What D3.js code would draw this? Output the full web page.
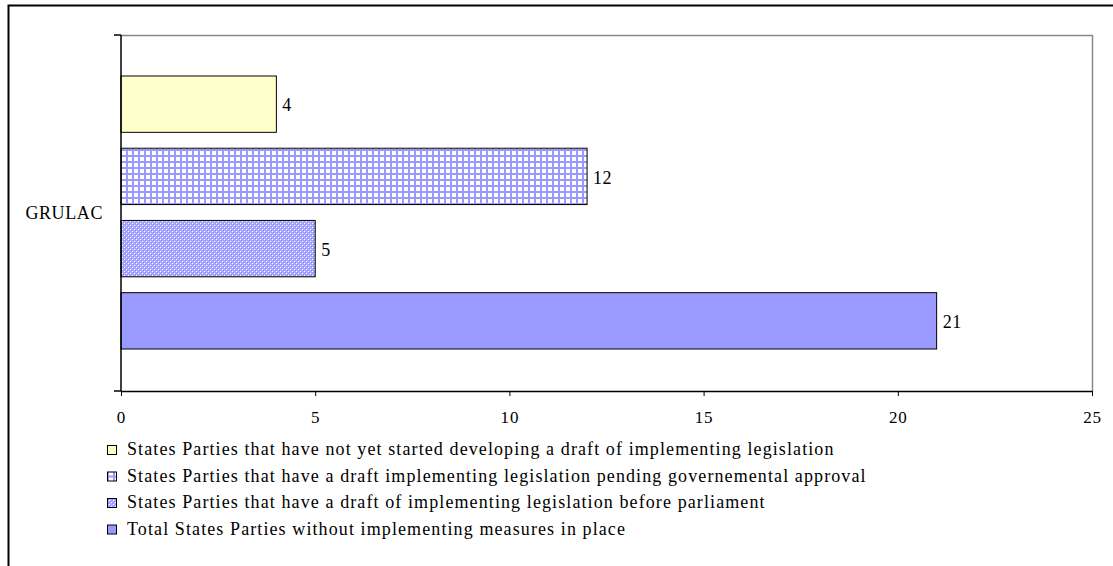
<!DOCTYPE html>
<html>
<head>
<meta charset="utf-8">
<script src="https://cdn.jsdelivr.net/npm/d3@7"></script>
<style>
  body { margin: 0; background: #fff; }
  svg text { font-family: "Liberation Serif", "Times New Roman", serif; fill: #000; }
</style>
</head>
<body>
<div id="chart"></div>
<script>
// Datos del gráfico
const category = "GRULAC";
const seriesNames = [
  "States Parties that have not yet started developing a draft of implementing legislation",
  "States Parties that have a draft implementing legislation pending governemental approval",
  "States Parties that have a draft of implementing legislation before parliament",
  "Total States Parties without implementing measures in place"
];
const seriesValues = [4, 12, 5, 21];
const xTicks = [0, 5, 10, 15, 20, 25];

const width = 1113, height = 566;
const marginLeft = 121, marginRight = 21, marginTop = 35, plotBottom = 391;

const svg = d3.select("#chart").append("svg")
  .attr("width", width)
  .attr("height", height)
  .attr("viewBox", [0, 0, width, height]);

// Patrones de relleno
const defs = svg.append("defs");
const grid = defs.append("pattern")
  .attr("id", "grid").attr("patternUnits", "userSpaceOnUse")
  .attr("width", 6).attr("height", 6);
grid.append("rect").attr("width", 6).attr("height", 6).attr("fill", "#fff");
grid.append("rect").attr("x", 0).attr("y", 0).attr("width", 2).attr("height", 6).attr("fill", "#9999ff");
grid.append("rect").attr("x", 0).attr("y", 0).attr("width", 6).attr("height", 2).attr("fill", "#9999ff");

const cross = defs.append("pattern")
  .attr("id", "cross").attr("patternUnits", "userSpaceOnUse")
  .attr("width", 4).attr("height", 4);
cross.append("rect").attr("width", 4).attr("height", 4).attr("fill", "#a8a8ff");
cross.append("rect").attr("x", 0).attr("y", 0).attr("width", 1).attr("height", 1).attr("fill", "#fff");
cross.append("rect").attr("x", 2).attr("y", 2).attr("width", 1).attr("height", 1).attr("fill", "#fff");
cross.append("rect").attr("x", 1).attr("y", 1).attr("width", 1).attr("height", 1).attr("fill", "#8c8cff");
cross.append("rect").attr("x", 3).attr("y", 3).attr("width", 1).attr("height", 1).attr("fill", "#8c8cff");

const fills = ["#ffffcc", "url(#grid)", "url(#cross)", "#9999ff"];

// Marco exterior
svg.append("path")
  .attr("d", `M8.5,${height} V5.5 H${width}`)
  .attr("fill", "none").attr("stroke", "#000").attr("stroke-width", 2);

// Escalas
const x = d3.scaleLinear()
  .domain([0, 25])
  .range([marginLeft, width - marginRight]);

const y0 = d3.scaleBand()
  .domain([category])
  .range([marginTop, plotBottom]);

const y1 = d3.scaleBand()
  .domain(d3.range(seriesValues.length))
  .range([41, y0.bandwidth() - 42])
  .paddingInner(0.22);

// Borde del área de trazado (arriba y derecha en gris)
svg.append("path")
  .attr("d", `M${marginLeft},${marginTop + 0.5} H${x(25) + 0.5} V${plotBottom}`)
  .attr("fill", "none").attr("stroke", "#888").attr("stroke-width", 1.5);

// Barras
const bars = svg.append("g")
  .attr("transform", `translate(0,${y0(category)})`);

bars.selectAll("rect")
  .data(seriesValues)
  .join("rect")
  .attr("x", x(0))
  .attr("y", (d, i) => y1(i))
  .attr("width", d => x(d) - x(0))
  .attr("height", y1.bandwidth())
  .attr("fill", (d, i) => fills[i])
  .attr("stroke", "#000")
  .attr("stroke-width", 1);

bars.selectAll("text")
  .data(seriesValues)
  .join("text")
  .attr("x", d => x(d) + 6)
  .attr("y", (d, i) => y1(i) + y1.bandwidth() / 2 + 1)
  .attr("dy", "0.35em")
  .attr("font-size", 18)
  .attr("letter-spacing", 0.5)
  .text(d => d);

// Eje horizontal
svg.append("g")
  .attr("transform", `translate(0,${plotBottom})`)
  .call(d3.axisBottom(x).tickValues(xTicks).tickSize(5).tickSizeOuter(0).tickPadding(15))
  .call(g => g.select(".domain").attr("stroke", "#000").attr("stroke-width", 1.5))
  .call(g => g.selectAll(".tick line").attr("stroke", "#000"))
  .call(g => g.selectAll(".tick text")
    .attr("font-family", "Liberation Serif, serif")
    .attr("font-size", 17)
    .attr("letter-spacing", 0.8)
    .attr("fill", "#000"));

// Eje vertical
svg.append("g")
  .attr("transform", `translate(${marginLeft},0)`)
  .call(d3.axisLeft(y0).tickSize(0).tickPadding(18))
  .call(g => g.select(".domain").remove())
  .call(g => g.selectAll(".tick text")
    .attr("font-family", "Liberation Serif, serif")
    .attr("font-size", 18)
    .attr("letter-spacing", 0.6)
    .attr("fill", "#000"));

svg.append("line")
  .attr("x1", marginLeft).attr("x2", marginLeft)
  .attr("y1", marginTop).attr("y2", plotBottom)
  .attr("stroke", "#000").attr("stroke-width", 1.5);

svg.append("g")
  .selectAll("line")
  .data(y0.range())
  .join("line")
  .attr("x1", marginLeft - 7).attr("x2", marginLeft)
  .attr("y1", d => d).attr("y2", d => d)
  .attr("stroke", "#000").attr("stroke-width", 1.5);

// Leyenda
const legend = svg.append("g")
  .attr("transform", "translate(107,449)");

const items = legend.selectAll("g")
  .data(seriesNames)
  .join("g")
  .attr("transform", (d, i) => `translate(0,${i * 26.5})`);

items.append("rect")
  .attr("x", 0.5).attr("y", -3.5)
  .attr("width", 9).attr("height", 9)
  .attr("fill", (d, i) => fills[i])
  .attr("stroke", "#000");

items.append("text")
  .attr("x", 20)
  .attr("dy", "0.35em")
  .attr("font-size", 18)
  .attr("letter-spacing", 1.1)
  .text(d => d);
</script>
</body>
</html>
